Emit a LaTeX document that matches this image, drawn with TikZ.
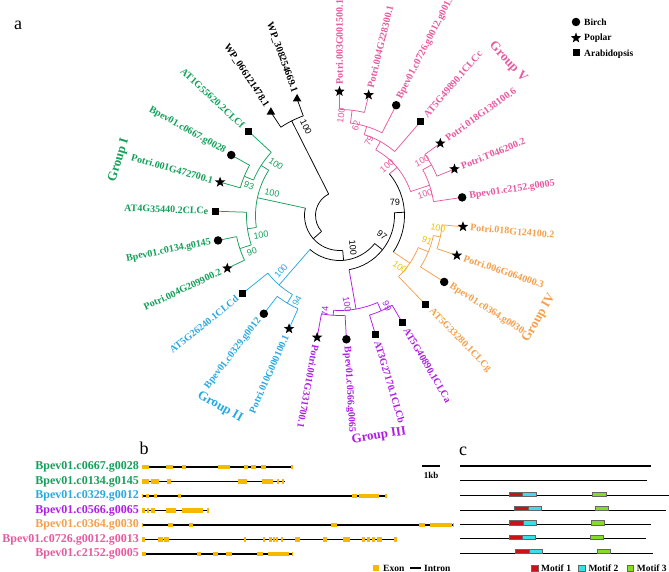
\documentclass[tikz,border=0pt]{standalone}
\usepackage{fontspec}
\setmainfont{Liberation Serif}
\newfontfamily\bsfont{Liberation Sans}
\usetikzlibrary{shapes.geometric}
\definecolor{gI}{RGB}{20,160,90}
\definecolor{gII}{RGB}{40,170,225}
\definecolor{gIII}{RGB}{175,30,230}
\definecolor{gIV}{RGB}{245,160,75}
\definecolor{gIVb}{RGB}{240,195,0}
\definecolor{gV}{RGB}{232,90,160}
\definecolor{exon}{RGB}{245,185,0}
\definecolor{mA}{RGB}{200,20,20}
\definecolor{mB}{RGB}{60,220,235}
\definecolor{mC}{RGB}{130,220,40}
\newcommand\tbr[4]{\draw[#1] (#2:#3pt) -- (#2:#4pt);}
\newcommand\tarc[4]{\draw[#1] (#3:#2pt) arc[start angle=#3, end angle=#4, radius=#2pt];}
\newcommand\lf[7]{\draw[#1] (#2:#3pt) -- (#2:124pt); \node[#4] (s#6) at (#2:124pt) {}; \node[#5=#2, text=#1] (t#6) at (#2:131pt) {#7};}
\newcommand\gene[3]{\draw[line width=1.2pt] (141.7,-#1) -- (#2,-#1);
  \foreach \a/\b in {#3} \fill[exon] (\a,-#1-2.4) rectangle (\b,-#1+2.4);}
\newcommand\prot[3]{\draw[line width=#3] (460,-#1) -- (#2,-#1);}
\newcommand\motif[4]{\draw[fill=#4, draw=black!60, line width=0.3pt] (#2,-#1-0.5) rectangle (#3,-#1+4);}
\tikzset{
  lab/.style={font=\bfseries\fontsize{10}{10}\selectfont, inner sep=0pt},
  labR/.style={lab, anchor=west, rotate=#1},
  labL/.style={lab, anchor=east, rotate=#1-180},
  bird/.style={circle, fill=black, inner sep=0pt, minimum size=8.5pt},
  pop/.style={star, star points=5, star point ratio=2.4, fill=black, inner sep=0pt, minimum size=11pt},
  ara/.style={rectangle, fill=black, inner sep=0pt, minimum size=7pt},
  bact/.style={regular polygon, regular polygon sides=3, fill=black, inner sep=0pt, minimum size=10pt},
  bs/.style={font=\bsfont\fontsize{9}{9}\selectfont, inner sep=0pt},
  grp/.style={font=\bfseries\fontsize{13}{13}\selectfont, inner sep=0pt},
  glab/.style={font=\bfseries\fontsize{12}{12}\selectfont, inner sep=0pt, anchor=east},
  leg/.style={font=\bfseries\fontsize{9.5}{9.5}\selectfont, inner sep=0pt, anchor=west},
  pan/.style={font=\fontsize{18}{18}\selectfont, inner sep=0pt},
}
\begin{document}
\begin{tikzpicture}[x=1pt,y=1pt]
\useasboundingbox (0,0) rectangle (669,-572);
\fill[white] (0,0) rectangle (669,-572);
\begin{scope}[shift={(339.5,-215.5)}, line width=0.75pt]
% backbone
\tarc{black}{24}{116.8}{221.51}
\tbr{black}{116.8}{24}{106}
\tarc{black}{106}{110}{123.6}
\tbr{black}{221.51}{24}{35}
\tarc{black}{35}{167.8}{275.22}
\tbr{black}{275.22}{35}{45}
\tarc{black}{45}{229}{321.44}
\tbr{black}{321.44}{45}{55}
\tarc{black}{55}{280}{362.875}
\tbr{black}{362.875}{55}{65}
\tarc{black}{65}{325.9}{399.85}
% Group I
\tbr{gI}{167.8}{35}{84}
\tarc{gI}{84}{147.4}{188.2}
\tbr{gI}{147.4}{84}{93}
\tarc{gI}{93}{137.2}{157.6}
\tbr{gI}{157.6}{93}{103}
\tarc{gI}{103}{150.8}{164.4}
\tbr{gI}{188.2}{84}{93}
\tarc{gI}{93}{178}{198.4}
\tbr{gI}{198.4}{93}{105}
\tarc{gI}{105}{191.6}{205.2}
% Group II
\tbr{gII}{229}{45}{92}
\tarc{gII}{92}{218.8}{239.2}
\tbr{gII}{239.2}{92}{102}
\tarc{gII}{102}{232.4}{246}
% Group III
\tbr{gIII}{280}{55}{95}
\tarc{gIII}{95}{266.4}{293.6}
\tbr{gIII}{266.4}{95}{100}
\tarc{gIII}{100}{259.6}{273.2}
\tbr{gIII}{293.6}{95}{104}
\tarc{gIII}{104}{286.8}{300.4}
% Group IV
\tbr{gIV}{325.9}{65}{85}
\tarc{gIV}{85}{314}{337.8}
\tbr{gIV}{337.8}{85}{96}
\tarc{gIV}{96}{327.6}{348}
\tbr{gIV}{348}{96}{103}
\tarc{gIV}{103}{341.2}{354.8}
% Group V
\tbr{gV}{39.85}{65}{75}
\tarc{gV}{75}{18.6}{61.1}
\tbr{gV}{61.1}{75}{84.5}
\tarc{gV}{84.5}{49.2}{73}
\tbr{gV}{73}{84.5}{93}
\tarc{gV}{93}{62.8}{83.2}
\tbr{gV}{83.2}{93}{106}
\tarc{gV}{106}{76.4}{90}
\tbr{gV}{18.6}{75}{95}
\tarc{gV}{95}{8.4}{28.8}
\tbr{gV}{28.8}{95}{105}
\tarc{gV}{105}{22}{35.6}
% leaves
\lf{gV}{90}{106}{pop}{labR}{k0}{Potri.003G001500.1}
\lf{gV}{76.4}{106}{pop}{labR}{k1}{Potri.004G228300.1}
\lf{gV}{62.8}{93}{bird}{labR}{k2}{Bpev01.c0726.g0012.g0013}
\lf{gV}{49.2}{84.5}{ara}{labR}{k3}{AT5G49890.1CLCc}
\lf{gV}{35.6}{105}{pop}{labR}{k4}{Potri.018G138100.6}
\lf{gV}{22}{105}{pop}{labR}{k5}{Potri.T046200.2}
\lf{gV}{8.4}{95}{bird}{labR}{k6}{Bpev01.c2152.g0005}
\lf{gIV}{354.8}{103}{pop}{labR}{k7}{Potri.018G124100.2}
\lf{gIV}{341.2}{103}{pop}{labR}{k8}{Potri.006G064000.3}
\lf{gIV}{327.6}{96}{bird}{labR}{k9}{Bpev01.c0364.g0030}
\lf{gIV}{314}{85}{ara}{labR}{k10}{AT5G33280.1CLCg}
\lf{gIII}{300.4}{104}{ara}{labR}{k11}{AT5G40890.1CLCa}
\lf{gIII}{286.8}{104}{ara}{labR}{k12}{AT3G27170.1CLCb}
\lf{gIII}{273.2}{100}{bird}{labR}{k13}{Bpev01.c0566.g0065}
\lf{gIII}{259.6}{100}{pop}{labR}{k14}{Potri.001G331700.1}
\lf{gII}{246}{102}{pop}{labL}{k15}{Potri.010G000100.1}
\lf{gII}{232.4}{102}{bird}{labL}{k16}{Bpev01.c0329.g0012}
\lf{gII}{218.8}{92}{ara}{labL}{k17}{AT5G26240.1CLCd}
\lf{gI}{205.2}{105}{pop}{labL}{k18}{Potri.004G209900.2}
\lf{gI}{191.6}{105}{bird}{labL}{k19}{Bpev01.c0134.g0145}
\lf{gI}{178}{93}{ara}{labL}{k20}{AT4G35440.2CLCe}
\lf{gI}{164.4}{103}{pop}{labL}{k21}{Potri.001G472700.1}
\lf{gI}{150.8}{103}{bird}{labL}{k22}{Bpev01.c0667.g0028}
\lf{gI}{137.2}{93}{ara}{labL}{k23}{AT1G55620.2CLCf}
\lf{black}{123.6}{106}{bact}{labL}{k24}{WP\_066121478.1}
\lf{black}{110}{106}{bact}{labL}{k25}{WP\_308254669.1}
\end{scope}
% bootstrap values
\node[bs, rotate=-63.2] (bWP) at (306,-127) {100};
\node[bs, text=gI, rotate=-22.4] (bA1) at (249,-186) {93};
\node[bs, text=gI, rotate=-32.6] (bA2) at (276,-164) {100};
\node[bs, text=gI, rotate=-12.2] (bG1) at (272,-193) {100};
\node[bs, text=gI, rotate=8.2] (bB2) at (261,-235) {100};
\node[bs, text=gI, rotate=18.4] (bB1) at (252,-252) {90};
\node[bs, text=gII, rotate=49] (bC2) at (281,-271) {100};
\node[bs, text=gII, rotate=59.2] (bC1) at (297,-301) {94};
\node[bs, text=gIII, rotate=86.4] (bD1) at (325,-311) {74};
\node[bs, text=gIII, rotate=-80] (bD3) at (347,-304) {100};
\node[bs, text=gIII, rotate=-66.4] (bD2) at (387,-306) {99};
\node[bs, text=gIVb, rotate=-12] (bE1) at (438,-228) {100};
\node[bs, text=gIVb, rotate=-22.2] (bE2) at (427,-241) {91};
\node[bs, text=gIVb, rotate=-34.1] (bE3) at (400,-267) {100};
\node[bs, rotate=2.9] (bN4) at (395,-202) {79};
\node[bs, rotate=-38.6] (bN3) at (382,-235) {97};
\node[bs, rotate=-84.8] (bN2) at (353,-248) {100};
\node[bs, text=gV, rotate=83.2] (bF1) at (341,-116) {100};
\node[bs, text=gV, rotate=73] (bF2) at (356,-126) {62};
\node[bs, text=gV, rotate=61.1] (bF3) at (369,-141) {79};
\node[bs, text=gV, rotate=39.85] (bV) at (387,-166) {100};
\node[bs, text=gV, rotate=28.8] (bG1b) at (422,-161) {100};
\node[bs, text=gV, rotate=18.6] (bG2) at (425,-194) {100};
% group labels
\node[grp, text=gI, rotate=73] (grI) at (119,-160) {Group I};
\node[grp, text=gII, rotate=-30] (grII) at (220,-407) {Group II};
\node[grp, text=gIII, rotate=9] (grIII) at (379,-436) {Group III};
\node[grp, text=gIV, rotate=60] (grIV) at (539,-318) {Group IV};
\node[grp, text=gV, rotate=-47] (grV) at (508,-62) {Group V};
% legend
\node[bird] (lb) at (576,-22) {};
\node[pop] (lp) at (576,-38) {};
\node[ara] (la) at (576,-53) {};
\node[leg] (lbt) at (584,-22) {Birch};
\node[leg] (lpt) at (584,-38) {Poplar};
\node[leg] (lat) at (584,-54) {Arabidopsis};
% panel letters
\node[pan] (pa) at (18,-25) {a};
\node[pan] (pb) at (144,-448) {b};
\node[pan] (pc) at (463,-451) {c};
% panel b
\node[glab, text=gI] (n1) at (139,-467) {Bpev01.c0667.g0028};
\node[glab, text=gI] (n2) at (139,-481.5) {Bpev01.c0134.g0145};
\node[glab, text=gII] (n3) at (139,-496) {Bpev01.c0329.g0012};
\node[glab, text=gIII] (n4) at (139,-510.5) {Bpev01.c0566.g0065};
\node[glab, text=gIV] (n5) at (139,-525) {Bpev01.c0364.g0030};
\node[glab, text=gV] (n6) at (139,-539.5) {Bpev01.c0726.g0012.g0013};
\node[glab, text=gV] (n7) at (139,-554) {Bpev01.c2152.g0005};
\gene{467}{292.7}{141.7/149.3, 165.7/173.3, 181.7/185.7, 218.3/226.7, 227.3/230, 244.3/248.3, 251/255.7, 261/265.7, 291/292.7}
\gene{481.5}{285}{141.7/149.3, 151/159, 166.7/170.7, 238.3/246.7, 261.7/272.7, 276.7/279, 281.7/284}
\gene{496}{387.3}{141.7/143.3, 146/149.3, 154/156.7, 177.7/181, 351.7/356.7, 359.3/379.3, 385/387.3}
\gene{510.5}{209}{141.7/145, 147.3/149.3, 151/155, 166/176, 181.7/203.3, 206.7/209}
\gene{525}{454}{141.7/143.3, 168.3/172.7, 189.3/193.3, 331/336.7, 419.3/425, 430/451.7, 452.7/454}
\gene{539.5}{396.7}{141.7/145, 158.3/163.3, 164.3/169, 244.3/246, 262.7/265, 269.3/271.7, 272.7/275, 276/278.3, 280.7/283.3, 295/300, 323.3/327.3, 343.3/350, 361.7/365, 366.7/370, 371.7/375, 376.7/381.7, 394/396.7}
\gene{554}{293.3}{141.7/145.7, 196.7/201, 213.3/217.7, 226/231.7, 257.3/262.7, 268.3/289.3, 292/293.3}
\draw[line width=1.2pt] (421.7,-466) -- (440,-466);
\node[font=\bfseries\fontsize{9}{9}\selectfont, inner sep=0pt] (kb) at (431,-475) {1kb};
\fill[exon] (373.3,-565.3) rectangle (379.3,-570.8);
\node[leg] (lex) at (383,-568) {Exon};
\draw[line width=1.5pt] (410,-568) -- (420.7,-568);
\node[leg] (lin) at (424,-568) {Intron};
% panel c
\prot{466}{650.7}{1.3pt}
\prot{480.3}{646.7}{1.3pt}
\prot{495.7}{669}{1.3pt}
\prot{510}{666}{1pt}
\prot{524.3}{650.7}{1pt}
\prot{538.7}{646}{1pt}
\prot{553}{652.7}{1pt}
\motif{495.7}{509}{521.7}{mA}\motif{495.7}{521.7}{535.7}{mB}\motif{495.7}{592.3}{605.7}{mC}
\motif{510}{514}{527.7}{mA}\motif{510}{527.7}{540.7}{mB}\motif{510}{595}{608.3}{mC}
\motif{524.3}{509.3}{522.7}{mA}\motif{524.3}{522.7}{536}{mB}\motif{524.3}{590.7}{604}{mC}
\motif{538.7}{509}{522.3}{mA}\motif{538.7}{522.3}{535.3}{mB}\motif{538.7}{590}{603.3}{mC}
\motif{553}{515.3}{528.7}{mA}\motif{553}{528.7}{541.7}{mB}\motif{553}{596.7}{610}{mC}
\draw[fill=mA, draw=black!60, line width=0.3pt] (531,-565) rectangle (537.7,-571);
\node[leg] (m1) at (541,-568) {Motif 1};
\draw[fill=mB, draw=black!60, line width=0.3pt] (578.3,-565) rectangle (585,-571);
\node[leg] (m2) at (588.3,-568) {Motif 2};
\draw[fill=mC, draw=black!60, line width=0.3pt] (626.7,-565) rectangle (633.3,-571);
\node[leg] (m3) at (636.7,-568) {Motif 3};
\end{tikzpicture}
\end{document}
